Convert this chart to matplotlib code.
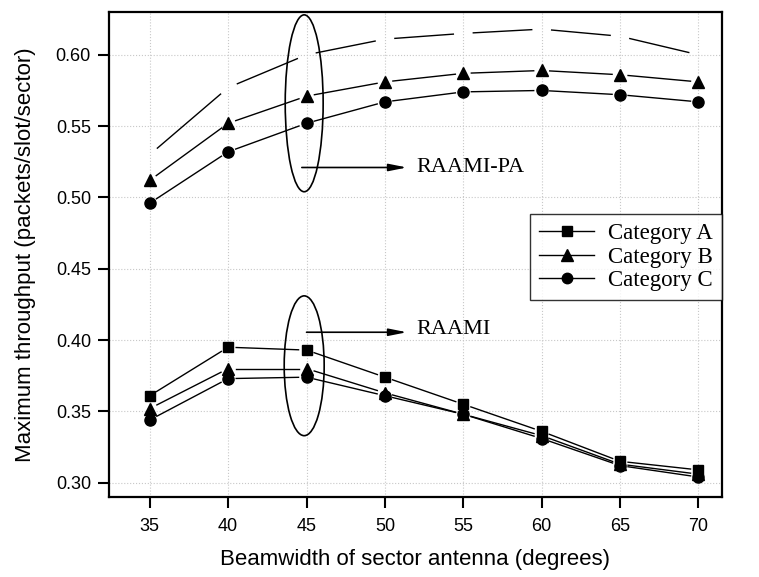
import matplotlib
matplotlib.use("Agg")
import matplotlib.pyplot as plt
from matplotlib.patches import Ellipse
from matplotlib.lines import Line2D
import numpy as np

beam = [35, 40, 45, 50, 55, 60, 65, 70]

# RAAMI-PA
pa_a = [0.530, 0.577, 0.600, 0.611, 0.615, 0.618, 0.613, 0.600]
pa_b = [0.512, 0.552, 0.571, 0.581, 0.587, 0.589, 0.586, 0.581]
pa_c = [0.496, 0.532, 0.552, 0.567, 0.574, 0.575, 0.572, 0.567]

# RAAMI
ra_a = [0.361, 0.395, 0.393, 0.374, 0.355, 0.336, 0.315, 0.309]
ra_b = [0.352, 0.380, 0.380, 0.363, 0.348, 0.333, 0.313, 0.306]
ra_c = [0.344, 0.373, 0.374, 0.361, 0.348, 0.331, 0.312, 0.304]

labels = ["Category A", "Category B", "Category C"]
markers = ["s", "^", "o"]

serif = "Liberation Serif"
sans = "Liberation Sans"

fig = plt.figure(figsize=(7.59, 5.77), dpi=100)
ax = fig.add_axes([109/759, 1-497/577, (722-109)/759, (497-12)/577])
ax.set_xlim(32.4, 71.5)
ax.set_ylim(0.29, 0.63)


def gapped(ax, x, y, gap, **kw):
    # draw each segment shortened by `gap` pixels at both ends
    pts = ax.transData.transform(np.column_stack([x, y]))
    for p, q in zip(pts[:-1], pts[1:]):
        d = q - p
        u = d / np.hypot(*d)
        a = ax.transData.inverted().transform([p + u*gap, q - u*gap])
        ax.plot(a[:, 0], a[:, 1], color="black", lw=1.0, **kw)


msize = {"s": 7, "^": 8.5, "o": 8}

# top series of RAAMI-PA has no visible markers
gapped(ax, beam, pa_a, 10)
for ys, m in zip([pa_b, pa_c], markers[1:]):
    gapped(ax, beam, ys, 8)
    ax.plot(beam, ys, ls="none", marker=m, ms=msize[m], color="black")
for ys, m in zip([ra_a, ra_b, ra_c], markers):
    gapped(ax, beam, ys, 8)
    ax.plot(beam, ys, ls="none", marker=m, ms=msize[m], color="black")

ax.add_patch(Ellipse((44.85, 0.566), 2.42, 0.124, fill=False, lw=1.2, ec="black"))
ax.add_patch(Ellipse((44.85, 0.382), 2.55, 0.098, fill=False, lw=1.2, ec="black"))

arrow = dict(arrowstyle="-|>,head_length=0.9,head_width=0.18", color="black",
             lw=1.2, mutation_scale=12, shrinkA=0, shrinkB=0)
ax.annotate("", xy=(51.4, 0.521), xytext=(44.7, 0.521), arrowprops=arrow)
ax.text(52.0, 0.521, "RAAMI-PA", fontsize=16, family=serif, va="center")
ax.annotate("", xy=(51.4, 0.4055), xytext=(45.0, 0.4055), arrowprops=arrow)
ax.text(52.0, 0.4075, "RAAMI", fontsize=16, family=serif, va="center")

ax.set_xticks(beam)
ax.set_yticks(np.arange(0.30, 0.601, 0.05))
ax.set_yticklabels(["%.2f" % v for v in np.arange(0.30, 0.601, 0.05)])
ax.grid(True, color="#c8c8c8", ls=":", lw=0.8)
ax.set_axisbelow(True)
for s in ax.spines.values():
    s.set_linewidth(1.6)
ax.tick_params(direction="out", length=8, width=1.5, labelsize=13)
ax.tick_params(axis="x", pad=7)
ax.tick_params(axis="y", pad=5)
for t in ax.get_xticklabels() + ax.get_yticklabels():
    t.set_family(sans)

ax.set_xlabel("Beamwidth of sector antenna (degrees)", fontsize=16, family=sans, labelpad=10)
ax.set_ylabel("Maximum throughput (packets/slot/sector)", fontsize=16, family=sans, labelpad=14)

handles = [Line2D([], [], color="black", lw=1.0, marker=m, ms=msize[m] - 0.5)
           for m in markers]
leg = ax.legend(handles, labels, loc="upper right", bbox_to_anchor=(722/759, 1-214/577),
                bbox_transform=fig.transFigure, prop={"family": serif, "size": 16.5},
                frameon=True, fancybox=False, edgecolor="black", handlelength=2.4,
                handletextpad=0.6, borderaxespad=0, labelspacing=0.1, borderpad=0.4)
leg.get_frame().set_linewidth(1.0)

fig.savefig("out.png", dpi=100)
